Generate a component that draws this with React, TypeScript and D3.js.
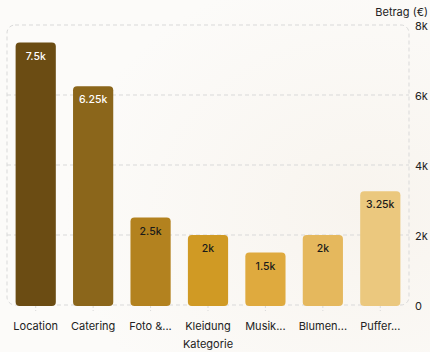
import React from "react";
import * as d3 from "d3";

const categories = ["Location", "Catering", "Foto &...", "Kleidung", "Musik...", "Blumen...", "Puffer..."];
const values = [7500, 6250, 2500, 2000, 1500, 2000, 3250];
const colors = ["#6b4c13", "#8b661b", "#b3821f", "#d09a24", "#dfaa3e", "#e5b85d", "#ebc87e"];
const labelColors = ["#ffffff", "#ffffff", "#1a1a1a", "#1a1a1a", "#1a1a1a", "#1a1a1a", "#1a1a1a"];
const yTicks = [0, 2000, 4000, 6000, 8000];

const W = 430, H = 352;
const left = 7, right = 409, top = 25, bottom = 305;

const fmt = (v: number) => (v === 0 ? "0" : `${+(v / 1000).toFixed(2)}k`);

export default function App() {
  const x = d3.scaleBand<string>().domain(categories).range([left, right]).paddingInner(0.3).paddingOuter(0.15);
  const y = d3.scaleLinear().domain([0, 8000]).range([bottom, top]);
  const font = "Inter, 'Noto Sans', sans-serif";
  return (
    <svg width={W} height={H} style={{ position: "absolute", left: 0, top: 0, display: "block" }}>
      <defs>
        <radialGradient id="bg" cx="0.85" cy="0.6" r="0.7">
          <stop offset="0" stopColor="#f8f4ee" />
          <stop offset="1" stopColor="#fcfbf9" />
        </radialGradient>
      </defs>
      <rect width={W} height={H} fill="url(#bg)" />
      {yTicks.filter((t) => t > 0 && t < 8000).map((t) => (
        <line key={t} x1={left} x2={right} y1={y(t)} y2={y(t)} stroke="#d9d9d9" strokeDasharray="4 3" strokeWidth={1} />
      ))}
      <rect x={left} y={top} width={right - left} height={bottom - top} rx={8} fill="none" stroke="#d9d9d9" strokeDasharray="4 3" strokeWidth={1} />
      {categories.map((c) => (
        <line key={c} x1={x(c)! + x.bandwidth() / 2} x2={x(c)! + x.bandwidth() / 2} y1={bottom} y2={bottom + 6} stroke="#d9d9d9" strokeDasharray="3 2" />
      ))}
      {categories.map((c, i) => {
        const bx = x(c)!;
        const by = y(values[i]);
        return (
          <g key={c}>
            <rect x={bx} y={by} width={x.bandwidth()} height={y(0) - by + 1} rx={4} fill={colors[i]} />
            <text x={bx + x.bandwidth() / 2} y={by + 17} textAnchor="middle" fontSize={10.5} fontWeight={500} fill={labelColors[i]} fontFamily={font}>
              {fmt(values[i])}
            </text>
            <text x={bx + x.bandwidth() / 2} y={330} textAnchor="middle" fontSize={11} fill="#222" fontFamily={font}>
              {c}
            </text>
          </g>
        );
      })}
      {yTicks.map((t) => (
        <text key={t} x={415} y={y(t) + 4.5} fontSize={11} fill="#222" fontFamily={font}>
          {fmt(t)}
        </text>
      ))}
      <text x={428} y={16} textAnchor="end" fontSize={11} fill="#222" fontFamily={font}>Betrag (€)</text>
      <text x={(left + right) / 2} y={348} textAnchor="middle" fontSize={11} fill="#222" fontFamily={font}>Kategorie</text>
    </svg>
  );
}
